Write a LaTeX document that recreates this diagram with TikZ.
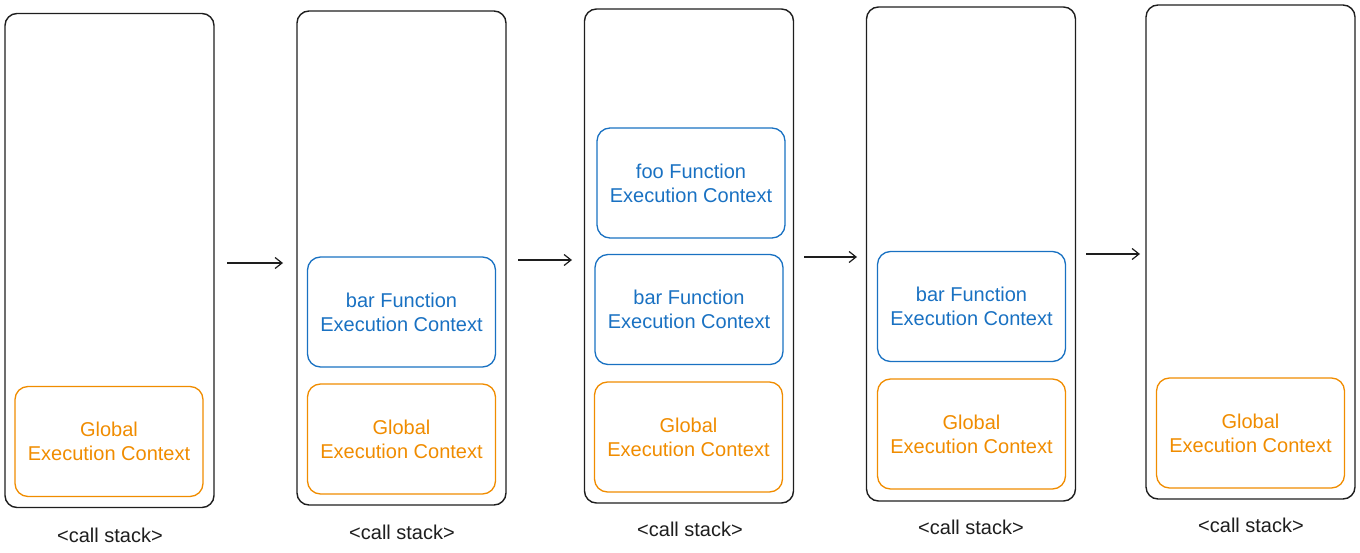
\documentclass[tikz,border=0pt]{standalone}
\usepackage{fontspec}
\setmainfont{Liberation Sans}
\usetikzlibrary{arrows.meta}
\definecolor{ink}{HTML}{1E1E1E}
\definecolor{ora}{HTML}{F08C00}
\definecolor{blu}{HTML}{1971C2}
\tikzset{
  stack/.style={draw=ink, line width=1.4pt, rounded corners=12pt, minimum width=209pt, minimum height=494pt, inner sep=0pt},
  ctx/.style={line width=1.3pt, rounded corners=13pt, minimum width=188pt, minimum height=110pt, inner sep=0pt, align=center, font=\fontsize{20}{24}\selectfont},
  glob/.style={ctx, draw=ora, text=ora},
  func/.style={ctx, draw=blu, text=blu},
  lbl/.style={text=ink, font=\fontsize{20}{24}\selectfont, inner sep=0pt},
  flow/.style={draw=ink, line width=1.4pt, -{Straight Barb[length=7pt,width=11pt,line width=1.2pt]}}
}
\begin{document}
\begin{tikzpicture}[x=1pt,y=-1pt]
\useasboundingbox (0,0) rectangle (1360,553);
% stacks
\node[stack] (c1) at (109.5,260.5) {};
\node[stack] (c2) at (401.5,258) {};
\node[stack] (c3) at (689,256) {};
\node[stack] (c4) at (971,254) {};
\node[stack] (c5) at (1250.5,252) {};
% contexts
\node[glob] (g1) at (109,441.5) {Global\\Execution Context};
\node[func] (b2) at (401.5,312) {bar Function\\Execution Context};
\node[glob] (g2) at (401.5,439) {Global\\Execution Context};
\node[func] (f3) at (691,183) {foo Function\\Execution Context};
\node[func] (b3) at (689,309.5) {bar Function\\Execution Context};
\node[glob] (g3) at (688.5,437) {Global\\Execution Context};
\node[func] (b4) at (971.5,306.5) {bar Function\\Execution Context};
\node[glob] (g4) at (971.5,434) {Global\\Execution Context};
\node[glob] (g5) at (1250.5,433) {Global\\Execution Context};
% labels
\node[lbl] (l1) at (110,535) {<call stack>};
\node[lbl] (l2) at (402,532) {<call stack>};
\node[lbl] (l3) at (690,529) {<call stack>};
\node[lbl] (l4) at (971,527) {<call stack>};
\node[lbl] (l5) at (1251,525) {<call stack>};
% arrows
\coordinate (a1s) at (227,263);
\coordinate (a1e) at (283,263);
\coordinate (a2s) at (518,260);
\coordinate (a2e) at (572,260);
\coordinate (a3s) at (804,257);
\coordinate (a3e) at (857,257);
\coordinate (a4s) at (1086,254);
\coordinate (a4e) at (1140,254);
\draw[flow] (a1s) -- (a1e);
\draw[flow] (a2s) -- (a2e);
\draw[flow] (a3s) -- (a3e);
\draw[flow] (a4s) -- (a4e);
\end{tikzpicture}
\end{document}
